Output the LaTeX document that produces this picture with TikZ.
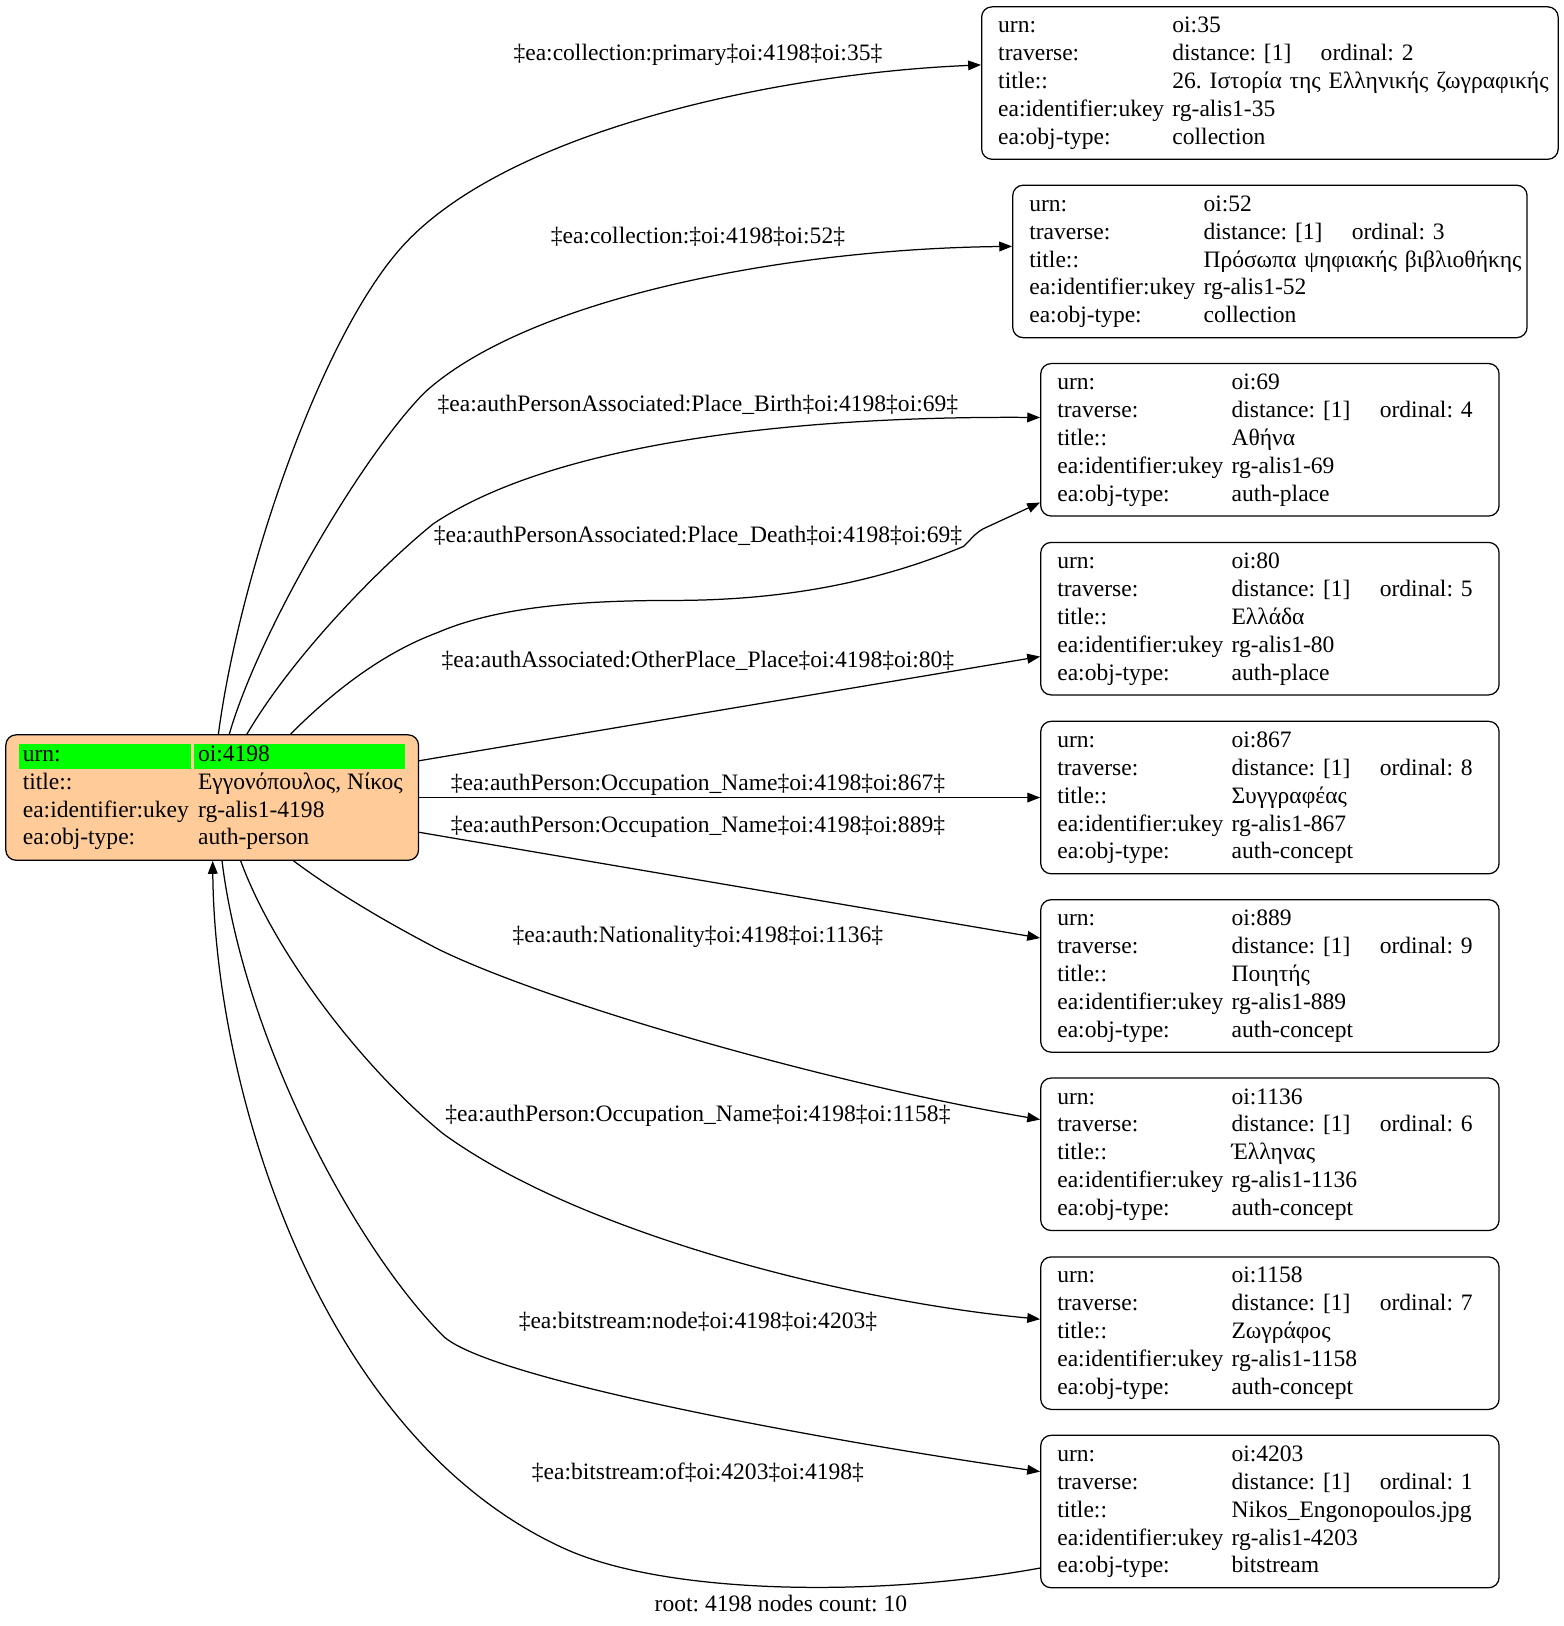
\documentclass[tikz,border=0pt]{standalone}
\usepackage{fontspec}
\setmainfont{Liberation Serif}
\usepackage{array}
\usetikzlibrary{arrows.meta}
\definecolor{peach}{HTML}{FFCC99}
\definecolor{hlgreen}{HTML}{00FF00}
\frenchspacing
\newcommand{\rkfont}{\fontsize{11.35pt}{13.45pt}\selectfont\frenchspacing}
\newcommand{\rkA}[1]{\makebox[82.8pt][l]{\hspace{1.6pt}#1}}
\newcommand{\rkB}[1]{\makebox[101.5pt][l]{\hspace{1.8pt}#1}}
\newcommand{\rkG}[1]{{\setlength{\fboxsep}{0pt}\colorbox{hlgreen}{\rule[-3.9pt]{0pt}{12pt}#1}}}
\newcommand{\rkbox}[5]{\begin{tabular}{@{}p{84pt}@{}p{71.5pt}@{}l@{}}
urn: & #1 & \\
traverse: & distance: [1] & ordinal: #2\\
title:: & \multicolumn{2}{@{}l@{}}{#3}\\
ea:identifier:ukey & #4 & \\
ea:obj-type: & #5 &
\end{tabular}}
\tikzset{
  rkbox/.style={draw, rounded corners=5pt, line width=0.6pt, anchor=north west,
    inner xsep=8pt, inner ysep=0pt, minimum height=73.5pt, font=\rkfont},
  rkroot/.style={draw, fill=peach, rounded corners=5pt, line width=0.6pt, anchor=north west,
    inner xsep=6.6pt, inner ysep=0pt, minimum height=60.5pt, font=\rkfont},
  rkedge/.style={line width=0.6pt, -{Triangle[length=6.2pt,width=4.7pt]}},
  rklabel/.style={inner sep=0pt, font=\rkfont}
}
\begin{document}
\begin{tikzpicture}[x=0.5pt,y=-0.5pt]
\path[fill=white] (0,0) rectangle (1508,1568);
\useasboundingbox (0,0) rectangle (1508,1568);

% root node
\node[rkroot] (root) at (5,708) {\begin{tabular}{@{}l@{\hspace{1.5pt}}l@{}}
\rkG{\rkA{urn:}} & \rkG{\rkB{oi:4198}}\\
\rkA{title::} & \rkB{Εγγονόπουλος, Νίκος}\\
\rkA{ea:identifier:ukey} & \rkB{rg-alis1-4198}\\
\rkA{ea:obj-type:} & \rkB{auth-person}
\end{tabular}};

% target nodes
\node[rkbox, text width=262pt] (n35) at (946,6) {\rkbox{oi:35}{2}{26. Ιστορία της Ελληνικής ζωγραφικής}{rg-alis1-35}{collection}};
\node[rkbox, text width=232pt] (n52) at (976,178) {\rkbox{oi:52}{3}{Πρόσωπα ψηφιακής βιβλιοθήκης}{rg-alis1-52}{collection}};
\node[rkbox, text width=205pt] (n69) at (1003,350) {\rkbox{oi:69}{4}{Αθήνα}{rg-alis1-69}{auth-place}};
\node[rkbox, text width=205pt] (n80) at (1003,522.5) {\rkbox{oi:80}{5}{Ελλάδα}{rg-alis1-80}{auth-place}};
\node[rkbox, text width=205pt] (n867) at (1003,695) {\rkbox{oi:867}{8}{Συγγραφέας}{rg-alis1-867}{auth-concept}};
\node[rkbox, text width=205pt] (n889) at (1003,867) {\rkbox{oi:889}{9}{Ποιητής}{rg-alis1-889}{auth-concept}};
\node[rkbox, text width=205pt] (n1136) at (1003,1039) {\rkbox{oi:1136}{6}{Έλληνας}{rg-alis1-1136}{auth-concept}};
\node[rkbox, text width=205pt] (n1158) at (1003,1211.5) {\rkbox{oi:1158}{7}{Ζωγράφος}{rg-alis1-1158}{auth-concept}};
\node[rkbox, text width=205pt] (n4203) at (1003,1383.5) {\rkbox{oi:4203}{1}{Nikos\_Engonopoulos.jpg}{rg-alis1-4203}{bitstream}};

% edges
\draw[rkedge] ([xshift=3pt]root.north) .. controls (230,560) and (306,332) .. (385,241)
  .. controls (483,128) and (745,71) .. ([yshift=8.75pt]n35.west);
\draw[rkedge] ([xshift=8.25pt]root.north) .. controls (250,608) and (350,438) .. (410,378)
  .. controls (510,288) and (756,240) .. ([yshift=7.25pt]n52.west);
\draw[rkedge] ([xshift=16.75pt]root.north) .. controls (282,633) and (366,547) .. (418,505)
  .. controls (530,430) and (753,401) .. ([yshift=10.75pt]n69.west);
\draw[rkedge] ([xshift=37.75pt]root.north) .. controls (320,668) and (368,630) .. (422,610)
  .. controls (480,585) and (560,579) .. (650,579)
  .. controls (760,579) and (850,560) .. (929,527)
  .. controls (936,521) and (938,516) .. (948,510) -- ([yshift=-30.25pt]n69.west);
\draw[rkedge] ([yshift=17.75pt]root.east) -- ([yshift=-18.25pt]n80.west);
\draw[rkedge] (root.east) -- (n867.west);
\draw[rkedge] ([yshift=-16.75pt]root.east) -- ([yshift=18.25pt]n889.west);
\draw[rkedge] ([xshift=39.25pt]root.south) .. controls (330,865) and (380,893) .. (422,915)
  .. controls (530,968) and (800,1045) .. ([yshift=16.75pt]n1136.west);
\draw[rkedge] ([xshift=13.75pt]root.south) .. controls (265,920) and (350,1030) .. (427,1093)
  .. controls (560,1190) and (820,1255) .. ([yshift=6.75pt]n1158.west);
\draw[rkedge] ([xshift=4.75pt]root.south) .. controls (235,1000) and (340,1200) .. (427,1288)
  .. controls (470,1330) and (800,1390) .. ([yshift=19.25pt]n4203.west);
\draw[rkedge] ([yshift=-27.25pt]n4203.west) .. controls (850,1540) and (644,1539) .. (543.6,1493)
  .. controls (307,1385) and (207,1050) .. ([xshift=0.25pt]root.south);

% edge labels
\node[rklabel] (l1) at (673,53) {‡ea:collection:primary‡oi:4198‡oi:35‡};
\node[rklabel] (l2) at (673,228) {‡ea:collection:‡oi:4198‡oi:52‡};
\node[rklabel] (l3) at (673,390) {‡ea:authPersonAssociated:Place\_Birth‡oi:4198‡oi:69‡};
\node[rklabel] (l4) at (673,517) {‡ea:authPersonAssociated:Place\_Death‡oi:4198‡oi:69‡};
\node[rklabel] (l5) at (673,637) {‡ea:authAssociated:OtherPlace\_Place‡oi:4198‡oi:80‡};
\node[rklabel] (l6) at (673,757) {‡ea:authPerson:Occupation\_Name‡oi:4198‡oi:867‡};
\node[rklabel] (l7) at (673,797) {‡ea:authPerson:Occupation\_Name‡oi:4198‡oi:889‡};
\node[rklabel] (l8) at (673,903) {‡ea:auth:Nationality‡oi:4198‡oi:1136‡};
\node[rklabel] (l9) at (673,1076) {‡ea:authPerson:Occupation\_Name‡oi:4198‡oi:1158‡};
\node[rklabel] (l10) at (673,1275) {‡ea:bitstream:node‡oi:4198‡oi:4203‡};
\node[rklabel] (l11) at (673,1420) {‡ea:bitstream:of‡oi:4203‡oi:4198‡};
\node[rklabel] (foot) at (753,1546) {root: 4198 nodes count: 10};
\end{tikzpicture}
\end{document}
